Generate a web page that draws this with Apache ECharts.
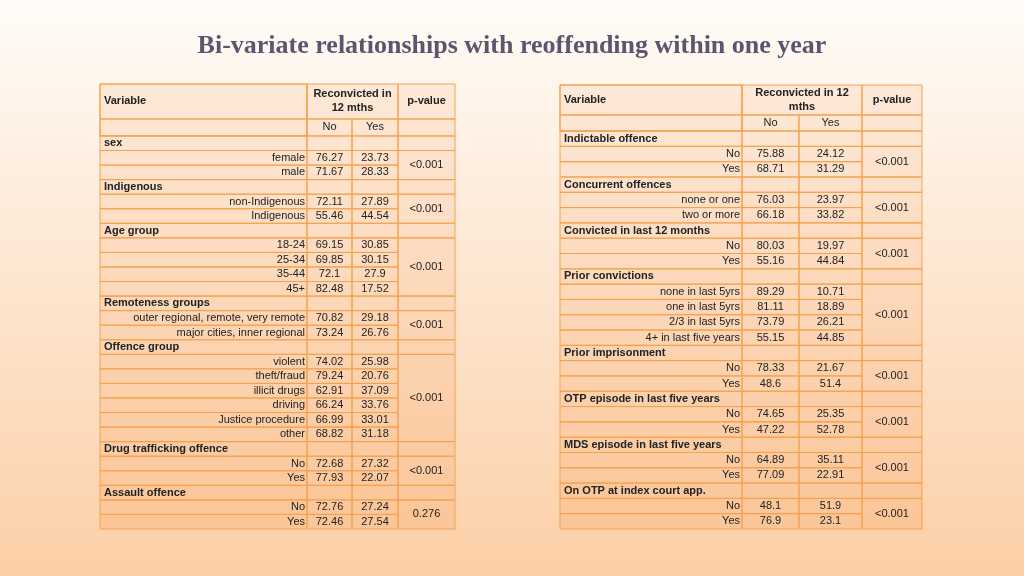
<!DOCTYPE html>
<html>
<head>
<meta charset="utf-8">
<script src="https://cdn.jsdelivr.net/npm/echarts@6/dist/echarts.min.js"></script>
<style>html,body{margin:0;padding:0}#main{width:1024px;height:576px}</style>
</head>
<body>
<div id="main"></div>
<script>
// left table
const leftGroups = ['sex', 'Indigenous', 'Age group', 'Remoteness groups', 'Offence group', 'Drug trafficking offence', 'Assault offence'];
const leftLevels = [
  ['female', 'male'],
  ['non-Indigenous', 'Indigenous'],
  ['18-24', '25-34', '35-44', '45+'],
  ['outer regional, remote, very remote', 'major cities, inner regional'],
  ['violent', 'theft/fraud', 'illicit drugs', 'driving', 'Justice procedure', 'other'],
  ['No', 'Yes'],
  ['No', 'Yes']
];
const leftNo = [[76.27, 71.67], [72.11, 55.46], [69.15, 69.85, 72.1, 82.48], [70.82, 73.24], [74.02, 79.24, 62.91, 66.24, 66.99, 68.82], [72.68, 77.93], [72.76, 72.46]];
const leftYes = [[23.73, 28.33], [27.89, 44.54], [30.85, 30.15, 27.9, 17.52], [29.18, 26.76], [25.98, 20.76, 37.09, 33.76, 33.01, 31.18], [27.32, 22.07], [27.24, 27.54]];
const leftP = ['<0.001', '<0.001', '<0.001', '<0.001', '<0.001', '<0.001', '0.276'];

// right table
const rightGroups = ['Indictable offence', 'Concurrent offences', 'Convicted in last 12 months', 'Prior convictions', 'Prior imprisonment', 'OTP episode in last five years', 'MDS episode in last five years', 'On OTP at index court app.'];
const rightLevels = [
  ['No', 'Yes'],
  ['none or one', 'two or more'],
  ['No', 'Yes'],
  ['none in last 5yrs', 'one in last 5yrs', '2/3 in last 5yrs', '4+ in last five years'],
  ['No', 'Yes'],
  ['No', 'Yes'],
  ['No', 'Yes'],
  ['No', 'Yes']
];
const rightNo = [[75.88, 68.71], [76.03, 66.18], [80.03, 55.16], [89.29, 81.11, 73.79, 55.15], [78.33, 48.6], [74.65, 47.22], [64.89, 77.09], [48.1, 76.9]];
const rightYes = [[24.12, 31.29], [23.97, 33.82], [19.97, 44.84], [10.71, 18.89, 26.21, 44.85], [21.67, 51.4], [25.35, 52.78], [35.11, 22.91], [51.9, 23.1]];
const rightP = ['<0.001', '<0.001', '<0.001', '<0.001', '<0.001', '<0.001', '<0.001', '<0.001'];

function buildCells(groups, levels, no, yes, p, cols, h1, h2, head) {
  const cells = [];
  const [c0, c1, c2, c3, c4] = cols;
  cells.push([c0, c1, 0, h1 + h2, '', 'left', 0]);
  cells.push([c0, c1, 0, h1, 'Variable', 'left', 1]);
  cells.push([c1, c3, 0, h1, head, 'center', 1]);
  cells.push([c3, c4, 0, h1, 'p-value', 'center', 1]);
  cells.push([c0, c1, h1, h1 + h2, '', 'left', 0]);
  cells.push([c1, c2, h1, h1 + h2, 'No', 'center', 0]);
  cells.push([c2, c3, h1, h1 + h2, 'Yes', 'center', 0]);
  cells.push([c3, c4, h1, h1 + h2, '', 'center', 0]);
  let y = h1 + h2;
  groups.forEach((g, gi) => {
    cells.push([c0, c1, y, y + 1, g, 'left', 1]);
    cells.push([c1, c2, y, y + 1, '', 'center', 0]);
    cells.push([c2, c3, y, y + 1, '', 'center', 0]);
    cells.push([c3, c4, y, y + 1, '', 'center', 0]);
    y += 1;
    const n = levels[gi].length;
    cells.push([c3, c4, y, y + n, p[gi], 'center', 0]);
    levels[gi].forEach((lv, li) => {
      cells.push([c0, c1, y, y + 1, lv, 'right', 0]);
      cells.push([c1, c2, y, y + 1, String(no[gi][li]), 'center', 0]);
      cells.push([c2, c3, y, y + 1, String(yes[gi][li]), 'center', 0]);
      y += 1;
    });
  });
  return { cells, total: y };
}

const L = buildCells(leftGroups, leftLevels, leftNo, leftYes, leftP, [0, 207, 252, 298, 355], 2.4, 1.17, 'Reconvicted in\n12 mths');
const R = buildCells(rightGroups, rightLevels, rightNo, rightYes, rightP, [0, 182, 239, 302, 362], 1.96, 1.05, 'Reconvicted in 12\nmths');

function renderCell(params, api) {
  const x0 = api.value(0), x1 = api.value(1), y0 = api.value(2), y1 = api.value(3);
  const d = params.seriesIndex === 0 ? L.cells[params.dataIndex] : R.cells[params.dataIndex];
  const p0 = api.coord([x0, y0]);
  const p1 = api.coord([x1, y1]);
  const align = d[5];
  const tx = align === 'left' ? p0[0] + 4 : align === 'right' ? p1[0] - 2 : (p0[0] + p1[0]) / 2;
  return {
    type: 'group',
    children: [
      {
        type: 'rect',
        shape: { x: p0[0], y: p0[1], width: p1[0] - p0[0], height: p1[1] - p0[1] },
        style: { fill: 'rgba(255,255,255,0)', stroke: '#f5a24e', lineWidth: 1 }
      },
      {
        type: 'text',
        style: {
          x: tx, y: (p0[1] + p1[1]) / 2, text: d[4],
          align: align, verticalAlign: 'middle',
          fill: '#222', fontSize: 11, lineHeight: 14,
          fontWeight: d[6] ? 'bold' : 'normal',
          fontFamily: 'Liberation Sans, Arial, sans-serif'
        }
      }
    ]
  };
}

const chart = echarts.init(document.getElementById('main'));
chart.setOption({
  animation: false,
  title: {
    text: 'Bi-variate relationships with reoffending within one year',
    left: 'center', top: 28,
    textStyle: { fontFamily: 'Liberation Serif, serif', fontSize: 26, fontWeight: 'bold', color: '#5b5670' }
  },
  graphic: [
    {
      type: 'rect', z: -10, silent: true,
      shape: { x: 0, y: 0, width: 1024, height: 576 },
      style: { fill: new echarts.graphic.LinearGradient(0, 0, 0, 1, [{ offset: 0, color: '#fffcf8' }, { offset: 1, color: '#fccfa6' }]) }
    },
    {
      type: 'rect', z: -5, silent: true,
      shape: { x: 100, y: 84, width: 355, height: 445 },
      style: { fill: new echarts.graphic.LinearGradient(0, 0, 0, 1, [{ offset: 0, color: '#fde9d8' }, { offset: 1, color: '#fbc597' }]) }
    },
    {
      type: 'rect', z: -5, silent: true,
      shape: { x: 560, y: 85, width: 362, height: 444 },
      style: { fill: new echarts.graphic.LinearGradient(0, 0, 0, 1, [{ offset: 0, color: '#fde9d8' }, { offset: 1, color: '#fbc597' }]) }
    }
  ],
  grid: [
    { left: 100, top: 84, width: 355, height: 445 },
    { left: 560, top: 85, width: 362, height: 444 }
  ],
  xAxis: [
    { type: 'value', gridIndex: 0, min: 0, max: 355, show: false },
    { type: 'value', gridIndex: 1, min: 0, max: 362, show: false }
  ],
  yAxis: [
    { type: 'value', gridIndex: 0, min: 0, max: L.total, inverse: true, show: false },
    { type: 'value', gridIndex: 1, min: 0, max: R.total, inverse: true, show: false }
  ],
  series: [
    { type: 'custom', xAxisIndex: 0, yAxisIndex: 0, renderItem: renderCell, data: L.cells.map(c => c.slice(0, 4)), clip: false },
    { type: 'custom', xAxisIndex: 1, yAxisIndex: 1, renderItem: renderCell, data: R.cells.map(c => c.slice(0, 4)), clip: false }
  ]
});
</script>
</body>
</html>
